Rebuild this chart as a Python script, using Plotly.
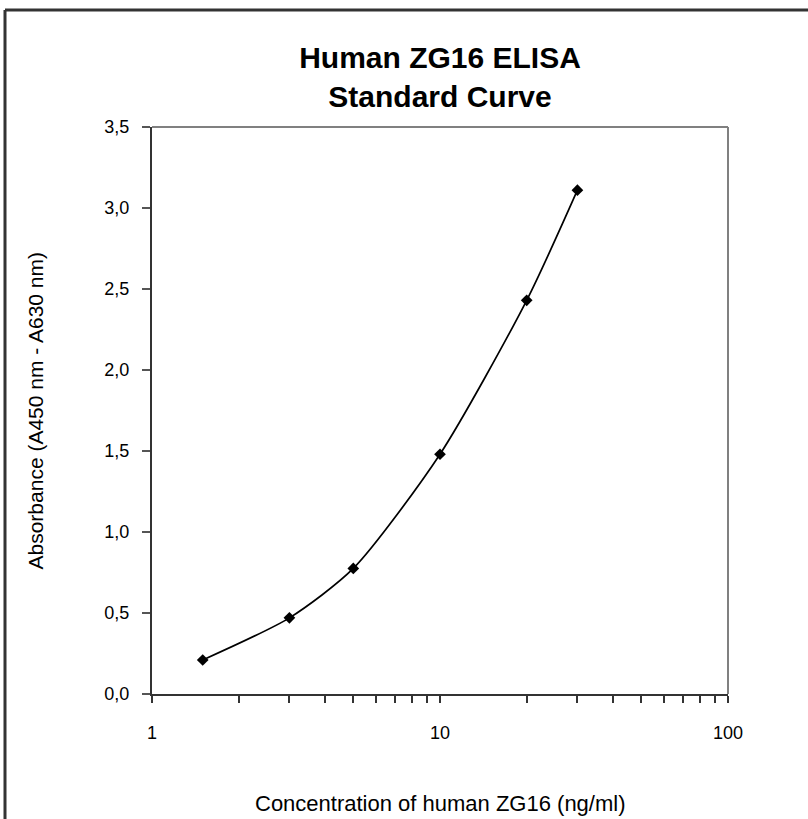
import plotly.graph_objects as go

# Data
concentration = [1.5, 3, 5, 10, 20, 30]
absorbance = [0.21, 0.47, 0.775, 1.48, 2.43, 3.11]
x_tickvals = [1, 2, 3, 4, 5, 6, 7, 8, 9, 10, 20, 30, 40, 50, 60, 70, 80, 90, 100]
x_ticktext = ["1", "", "", "", "", "", "", "", "", "10", "", "", "", "", "", "", "", "", "100"]
y_tickvals = [0, 0.5, 1.0, 1.5, 2.0, 2.5, 3.0, 3.5]

W, H = 808, 819
L, R, T, B = 152, 80, 127, 125
pw, ph = W - L - R, H - T - B

FONT = "Liberation Sans, Arial, sans-serif"

fig = go.Figure()
fig.add_trace(go.Scatter(
    x=concentration, y=absorbance, mode="lines+markers",
    line=dict(color="black", width=1.7, shape="spline", smoothing=0.7),
    marker=dict(symbol="diamond", size=9, color="black"),
    showlegend=False, hoverinfo="skip",
))

def px_x(p):
    return (p - L) / pw

def px_y(p):
    return (H - B - p) / ph

shapes = [
    # outer chart border (left and top visible)
    dict(type="line", xref="paper", yref="paper", x0=px_x(5), x1=px_x(5), y0=px_y(10), y1=px_y(H + 20),
         line=dict(color="#333333", width=3)),
    dict(type="line", xref="paper", yref="paper", x0=px_x(5), x1=px_x(W + 20), y0=px_y(10), y1=px_y(10),
         line=dict(color="#333333", width=3)),
    # gray plot-area border (top and right)
    dict(type="line", xref="paper", yref="paper", x0=0, x1=1, y0=1, y1=1,
         line=dict(color="#808080", width=2)),
    dict(type="line", xref="paper", yref="paper", x0=1, x1=1, y0=0, y1=1,
         line=dict(color="#808080", width=2)),
]

annotations = [
    dict(text="Concentration of human ZG16 (ng/ml)", xref="paper", yref="paper",
         x=0.5, y=px_y(803), xanchor="center", yanchor="middle", showarrow=False,
         font=dict(family=FONT, size=22, color="black")),
    dict(text="Absorbance (A450 nm - A630 nm)", xref="paper", yref="paper",
         x=px_x(35), y=0.5, xanchor="center", yanchor="middle", showarrow=False, textangle=-90,
         font=dict(family=FONT, size=21, color="black")),
]

fig.update_layout(
    width=W, height=H,
    margin=dict(l=L, r=R, t=T, b=B),
    paper_bgcolor="white", plot_bgcolor="white",
    separators=",.",
    font=dict(family=FONT, size=18, color="black"),
    title=dict(text="<b>Human ZG16 ELISA<br>Standard Curve</b>",
               x=0.5, xref="paper", y=1 - 68 / H, yref="container",
               xanchor="center", yanchor="middle",
               font=dict(family=FONT, size=30, color="black")),
    shapes=shapes,
    annotations=annotations,
)

fig.update_xaxes(
    type="log", range=[0, 2],
    tickmode="array", tickvals=x_tickvals, ticktext=x_ticktext,
    ticks="outside", ticklen=7, tickwidth=1.5, tickcolor="#333333",
    showline=True, linecolor="#333333", linewidth=2,
    showgrid=False, zeroline=False, ticklabelstandoff=14,
    tickfont=dict(family=FONT, size=18, color="black"),
)
fig.update_yaxes(
    range=[0, 3.5], tickmode="array", tickvals=y_tickvals, tickformat=".1f",
    ticks="outside", ticklen=8, tickwidth=1.5, tickcolor="#555555",
    showline=True, linecolor="#333333", linewidth=2,
    showgrid=False, zeroline=False, ticklabelstandoff=9,
    tickfont=dict(family=FONT, size=18, color="black"),
)

fig.write_html("out.html", config={"displayModeBar": False},
               post_script="document.body.style.margin='0px';document.body.style.overflow='hidden';")
